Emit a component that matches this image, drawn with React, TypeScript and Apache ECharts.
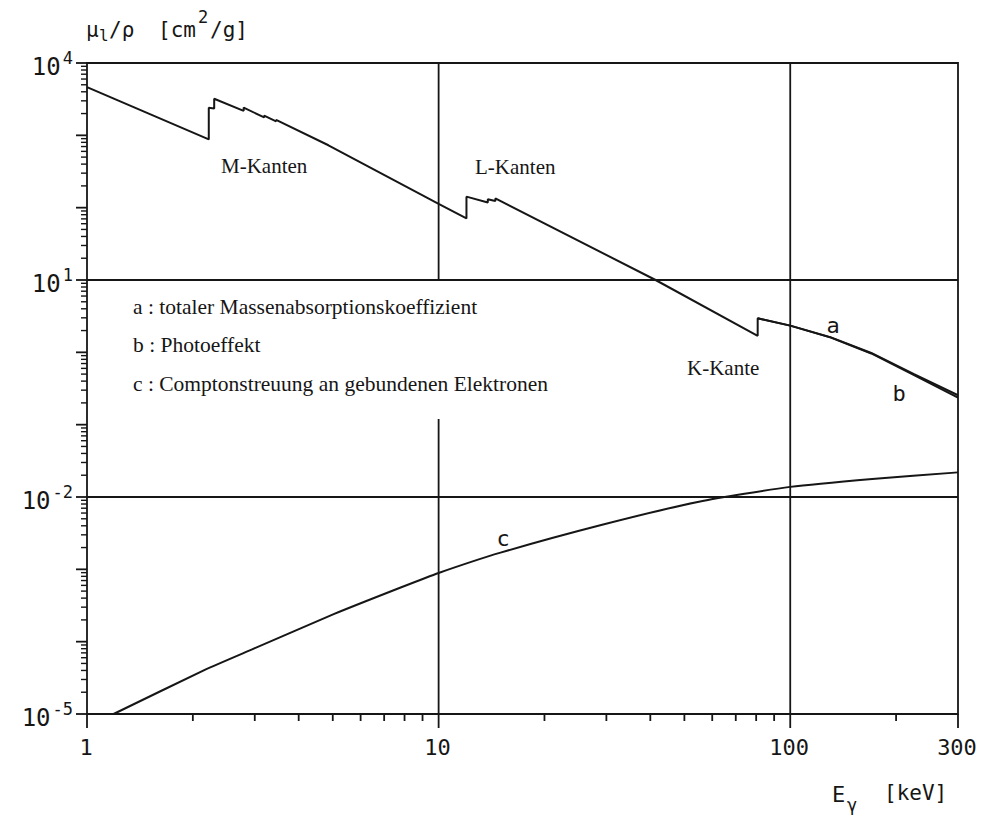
import React, { useEffect, useRef } from "react";
import * as echarts from "echarts";

// Axis ranges (photon energy in keV, mass attenuation in cm^2/g)
const X_MIN = 1;
const X_MAX = 300;
const Y_MIN = 1e-5;
const Y_MAX = 1e4;

// a: total mass absorption coefficient, with M-, L- and K-edges
const A_ENERGY = [1, 2.22, 2.22, 2.3, 2.3, 2.79, 2.79, 3.19, 3.19, 3.45, 3.45, 4.86, 10, 12.0, 12.0, 13.8, 13.8, 14.5, 14.5, 41.4, 80.8, 80.8, 100, 130, 170, 225, 300];
const A_MU = [4650, 878, 2400, 2350, 3200, 2180, 2420, 1770, 1870, 1563, 1635, 729, 113, 71, 142, 118, 131, 124, 134, 10, 1.69, 2.95, 2.34, 1.62, 0.98, 0.5, 0.255];

// b: photo effect (coincides with a below the K-edge, separates at high energy)
const B_ENERGY = [80.8, 100, 130, 170, 225, 300];
const B_MU = [2.95, 2.34, 1.61, 0.965, 0.485, 0.236];

// c: Compton scattering on bound electrons
const C_ENERGY = [1.19, 2.17, 2.98, 5.03, 7.8, 10, 15, 29, 55, 100, 171, 300];
const C_MU = [1e-5, 4.1e-5, 8.0e-5, 2.4e-4, 5.6e-4, 8.9e-4, 1.7e-3, 4.1e-3, 8.6e-3, 1.38e-2, 1.78e-2, 2.19e-2];

// tick marks and labels
const X_MAJOR_TICKS = [1, 10, 100, 300];
const X_TICK_LABELS = ["1", "10", "100", "300"];
const X_MINOR_TICKS = [2, 3, 4, 5, 6, 7, 8, 9, 20, 30, 40, 50, 60, 70, 80, 90, 200];
const Y_DECADES = [-5, -4, -3, -2, -1, 0, 1, 2, 3, 4];
const Y_MINOR_STEPS = [2, 3, 4, 5, 6, 7, 8, 9];
const Y_LABEL_EXPONENTS = [-5, -2, 1, 4];

// reference lines inside the frame: horizontal at mu values, vertical segments [E, muTop, muBottom]
const H_RULES = [10, 0.01];
const V_RULES: [number, number, number][] = [
  [10, 1e4, 10],
  [10, 0.12, 1e-5],
  [100, 1e4, 1e-5],
];

const INK = "#161616";
const MONO = "'DejaVu Sans Mono', monospace";
const SERIF = "'Liberation Serif', serif";
const LW = 1.8;

function zip(xs: number[], ys: number[]) {
  return xs.map((x, i) => [x, ys[i]]);
}

function buildOption() {
  const xTickData = [
    ...X_MAJOR_TICKS.map((v, i) => [v, Y_MIN, 1, i]),
    ...X_MINOR_TICKS.map((v) => [v, Y_MIN, 0, -1]),
  ];
  const yTickData: number[][] = [];
  Y_DECADES.forEach((d) => {
    yTickData.push([X_MIN, Math.pow(10, d), 1, d]);
    if (d < 4) Y_MINOR_STEPS.forEach((m) => yTickData.push([X_MIN, m * Math.pow(10, d), 0, d]));
  });

  const ruleSeries: any[] = [];
  H_RULES.forEach((mu) =>
    ruleSeries.push({
      type: "line",
      data: [[X_MIN, mu], [X_MAX, mu]],
      showSymbol: false,
      silent: true,
      lineStyle: { color: INK, width: LW },
    })
  );
  V_RULES.forEach(([e, top, bottom]) =>
    ruleSeries.push({
      type: "line",
      data: [[e, top], [e, bottom]],
      showSymbol: false,
      silent: true,
      lineStyle: { color: INK, width: LW },
    })
  );

  const curve = (name: string, data: number[][], smooth: number | boolean) => ({
    type: "line",
    name,
    data,
    showSymbol: false,
    smooth,
    silent: true,
    lineStyle: { color: INK, width: 2 },
  });

  const text = (x: number, y: number, t: string, size: number, family: string, align = "left") => ({
    type: "text",
    x,
    y,
    style: { text: t, fontSize: size, fontFamily: family, fill: INK, align, verticalAlign: "middle" },
  });

  return {
    animation: false,
    backgroundColor: "#ffffff",
    grid: {
      left: 87,
      right: 26,
      top: 63,
      bottom: 102,
      show: true,
      borderColor: INK,
      borderWidth: LW,
      backgroundColor: "transparent",
    },
    xAxis: {
      type: "log",
      logBase: 10,
      min: X_MIN,
      max: X_MAX,
      axisLine: { show: false },
      axisTick: { show: false },
      axisLabel: { show: false },
      splitLine: { show: false },
    },
    yAxis: {
      type: "log",
      logBase: 10,
      min: Y_MIN,
      max: Y_MAX,
      axisLine: { show: false },
      axisTick: { show: false },
      axisLabel: { show: false },
      splitLine: { show: false },
    },
    series: [
      ...ruleSeries,
      curve("a", zip(A_ENERGY, A_MU), false),
      curve("b", zip(B_ENERGY, B_MU), false),
      curve("c", zip(C_ENERGY, C_MU), 0.2),
      {
        type: "custom",
        name: "xTicks",
        clip: false,
        silent: true,
        data: xTickData,
        encode: { x: 0, y: 1 },
        renderItem: (_p: any, api: any) => {
          const v = api.value(0);
          const major = api.value(2) === 1;
          const idx = api.value(3);
          const pt = api.coord([v, Y_MIN]);
          const len = major ? 14 : 7;
          const children: any[] = [
            {
              type: "line",
              shape: { x1: pt[0], y1: pt[1], x2: pt[0], y2: pt[1] + len },
              style: { stroke: INK, lineWidth: LW },
            },
          ];
          if (major) {
            children.push({
              type: "text",
              x: pt[0] - 1,
              y: pt[1] + 33,
              style: {
                text: X_TICK_LABELS[idx],
                fontSize: 22,
                fontFamily: MONO,
                fill: INK,
                align: "center",
                verticalAlign: "middle",
              },
            });
          }
          return { type: "group", children };
        },
      },
      {
        type: "custom",
        name: "yTicks",
        clip: false,
        silent: true,
        data: yTickData,
        encode: { x: 0, y: 1 },
        renderItem: (_p: any, api: any) => {
          const v = api.value(1);
          const major = api.value(2) === 1;
          const exp = api.value(3);
          const pt = api.coord([X_MIN, v]);
          const len = major ? 11 : 6;
          const children: any[] = [
            {
              type: "line",
              shape: { x1: pt[0] - len, y1: pt[1], x2: pt[0], y2: pt[1] },
              style: { stroke: INK, lineWidth: major ? LW : 1.4 },
            },
          ];
          if (major && Y_LABEL_EXPONENTS.indexOf(exp) >= 0) {
            const expText = String(exp);
            const expSize = 17;
            const right = pt[0] - 14;
            const expW = expText.length * 0.602 * expSize;
            children.push({
              type: "text",
              x: right,
              y: pt[1] - 5,
              style: { text: expText, fontSize: expSize, fontFamily: MONO, fill: INK, align: "right", verticalAlign: "middle" },
            });
            children.push({
              type: "text",
              x: right - expW - 2,
              y: pt[1] + 4,
              style: { text: "10", fontSize: 24, fontFamily: MONO, fill: INK, align: "right", verticalAlign: "middle" },
            });
          }
          return { type: "group", children };
        },
      },
    ],
    graphic: [
      // y-axis title: mu_l / rho [cm^2/g]
      text(86, 30, "\u03bc", 21, MONO),
      text(99, 35, "l", 16, MONO),
      text(109, 30, "/\u03c1", 21, MONO),
      text(158, 30, "[cm", 21, MONO),
      text(198, 17, "2", 17, MONO),
      text(210, 30, "/g]", 21, MONO),
      // x-axis title: E_gamma [keV]
      text(832, 794, "E", 22, MONO),
      text(847, 805, "\u03b3", 17, MONO),
      text(884, 793, "[keV]", 21, MONO),
      // edge annotations
      text(221, 166, "M-Kanten", 21, SERIF),
      text(475, 167, "L-Kanten", 21, SERIF),
      text(687, 368, "K-Kante", 21, SERIF),
      // curve key
      text(133, 307, "a : totaler Massenabsorptionskoeffizient", 21.5, SERIF),
      text(133, 345, "b : Photoeffekt", 21.5, SERIF),
      text(133, 384, "c : Comptonstreuung an gebundenen Elektronen", 21.5, SERIF),
      // curve letters
      text(833, 325, "a", 22, MONO, "center"),
      text(899, 393, "b", 22, MONO, "center"),
      text(503, 538, "c", 22, MONO, "center"),
    ],
  };
}

export default function App() {
  const ref = useRef<HTMLDivElement>(null);
  useEffect(() => {
    if (!ref.current) return;
    const chart = echarts.init(ref.current, undefined, { renderer: "svg" });
    chart.setOption(buildOption() as any);
    return () => chart.dispose();
  }, []);
  return (
    <div
      ref={ref}
      style={{ position: "fixed", left: 0, top: 0, width: 984, height: 816, background: "#fff" }}
    />
  );
}
